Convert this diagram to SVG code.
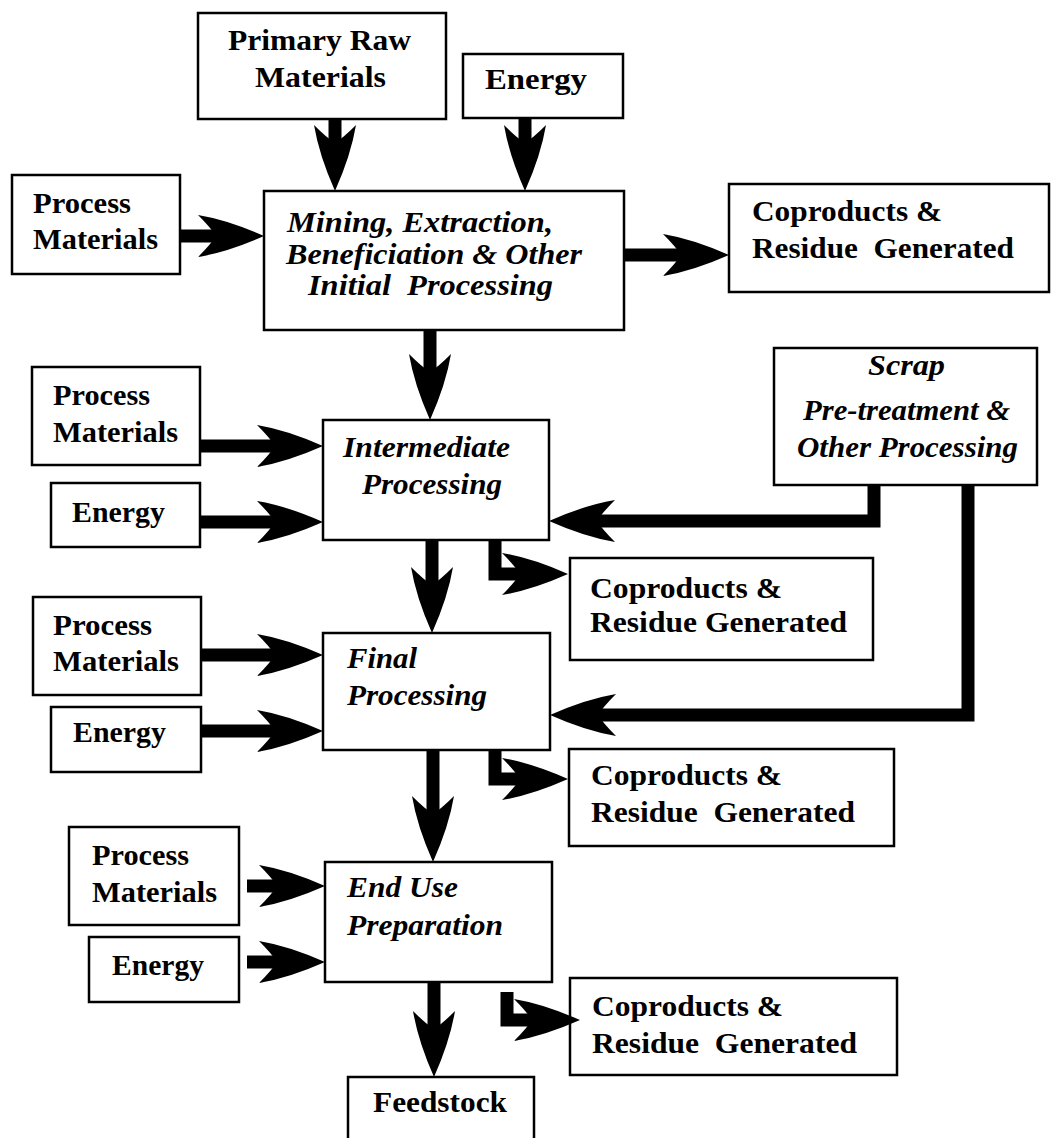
<svg xmlns="http://www.w3.org/2000/svg" width="1055" height="1138" viewBox="0 0 1055 1138">
<defs>
<style>
.box{fill:#fff;stroke:#000;stroke-width:2.5}
.lb{font-family:"Liberation Serif","Times New Roman",serif;font-weight:bold;font-size:30px;fill:#000}
.it{font-style:italic}
.flow{fill:none;stroke:#000;stroke-width:13;stroke-linejoin:miter;stroke-linecap:butt;marker-end:url(#head)}
</style>
<!-- barbed arrowhead; path ends at the notch, tip lies 48 units further on -->
<marker id="head" viewBox="0 0 66 42" refX="18" refY="21" markerWidth="66" markerHeight="42" markerUnits="userSpaceOnUse" orient="auto">
<path d="M66,21 Q30,5 0,0 Q13,13 18,21 Q13,29 0,42 Q30,37 66,21 Z" fill="#000"/>
</marker>
</defs>
<rect width="1055" height="1138" fill="#fff"/>

<g id="primary-raw-materials">
<rect class="box" x="198" y="13" width="248" height="106"/>
<text class="lb" x="228" y="50" textLength="183" lengthAdjust="spacingAndGlyphs">Primary Raw</text>
<text class="lb" x="255" y="87" textLength="131" lengthAdjust="spacingAndGlyphs">Materials</text>
</g>
<g id="energy-1">
<rect class="box" x="463" y="54" width="160" height="64"/>
<text class="lb" x="485" y="89" textLength="102" lengthAdjust="spacingAndGlyphs">Energy</text>
</g>
<g id="process-materials-1">
<rect class="box" x="12" y="175" width="168" height="99"/>
<text class="lb" x="33" y="213" textLength="98" lengthAdjust="spacingAndGlyphs">Process</text>
<text class="lb" x="33" y="249" textLength="125" lengthAdjust="spacingAndGlyphs">Materials</text>
</g>
<g id="mining">
<rect class="box" x="264" y="191" width="360" height="139"/>
<text class="lb it" x="287" y="232" textLength="266" lengthAdjust="spacingAndGlyphs">Mining, Extraction,</text>
<text class="lb it" x="286" y="264" textLength="296" lengthAdjust="spacingAndGlyphs">Beneficiation &amp; Other</text>
<text class="lb it" x="308" y="295" textLength="245" lengthAdjust="spacingAndGlyphs" xml:space="preserve">Initial  Processing</text>
</g>
<g id="coproducts-1">
<rect class="box" x="729" y="184" width="320" height="108"/>
<text class="lb" x="752" y="221" textLength="190" lengthAdjust="spacingAndGlyphs">Coproducts &amp;</text>
<text class="lb" x="752" y="258" textLength="262" lengthAdjust="spacingAndGlyphs" xml:space="preserve">Residue  Generated</text>
</g>

<g id="process-materials-2">
<rect class="box" x="32" y="367" width="168" height="98"/>
<text class="lb" x="53" y="405" textLength="97" lengthAdjust="spacingAndGlyphs">Process</text>
<text class="lb" x="53" y="442" textLength="125" lengthAdjust="spacingAndGlyphs">Materials</text>
</g>
<g id="energy-2">
<rect class="box" x="51" y="483" width="149" height="64"/>
<text class="lb" x="72" y="522" textLength="93" lengthAdjust="spacingAndGlyphs">Energy</text>
</g>
<g id="intermediate">
<rect class="box" x="323" y="420" width="226" height="120"/>
<text class="lb it" x="343" y="457" textLength="167" lengthAdjust="spacingAndGlyphs">Intermediate</text>
<text class="lb it" x="362" y="494" textLength="140" lengthAdjust="spacingAndGlyphs">Processing</text>
</g>
<g id="scrap">
<rect class="box" x="774" y="348" width="263" height="137"/>
<text class="lb it" x="868" y="375" textLength="77" lengthAdjust="spacingAndGlyphs">Scrap</text>
<text class="lb it" x="803" y="420" textLength="207" lengthAdjust="spacingAndGlyphs">Pre-treatment &amp;</text>
<text class="lb it" x="797" y="457" textLength="221" lengthAdjust="spacingAndGlyphs">Other Processing</text>
</g>
<g id="coproducts-2">
<rect class="box" x="570" y="558" width="303" height="102"/>
<text class="lb" x="590" y="598" textLength="192" lengthAdjust="spacingAndGlyphs">Coproducts &amp;</text>
<text class="lb" x="590" y="632" textLength="257" lengthAdjust="spacingAndGlyphs">Residue Generated</text>
</g>

<g id="process-materials-3">
<rect class="box" x="33" y="597" width="168" height="98"/>
<text class="lb" x="53" y="635" textLength="99" lengthAdjust="spacingAndGlyphs">Process</text>
<text class="lb" x="53" y="671" textLength="126" lengthAdjust="spacingAndGlyphs">Materials</text>
</g>
<g id="energy-3">
<rect class="box" x="51" y="707" width="150" height="65"/>
<text class="lb" x="73" y="742" textLength="93" lengthAdjust="spacingAndGlyphs">Energy</text>
</g>
<g id="final">
<rect class="box" x="323" y="633" width="227" height="117"/>
<text class="lb it" x="347" y="668" textLength="70" lengthAdjust="spacingAndGlyphs">Final</text>
<text class="lb it" x="347" y="705" textLength="140" lengthAdjust="spacingAndGlyphs">Processing</text>
</g>
<g id="coproducts-3">
<rect class="box" x="569" y="749" width="325" height="97"/>
<text class="lb" x="591" y="785" textLength="191" lengthAdjust="spacingAndGlyphs">Coproducts &amp;</text>
<text class="lb" x="591" y="822" textLength="264" lengthAdjust="spacingAndGlyphs" xml:space="preserve">Residue  Generated</text>
</g>

<g id="process-materials-4">
<rect class="box" x="69" y="827" width="170" height="98"/>
<text class="lb" x="92" y="865" textLength="97" lengthAdjust="spacingAndGlyphs">Process</text>
<text class="lb" x="92" y="902" textLength="125" lengthAdjust="spacingAndGlyphs">Materials</text>
</g>
<g id="energy-4">
<rect class="box" x="89" y="937" width="150" height="65"/>
<text class="lb" x="112" y="975" textLength="92" lengthAdjust="spacingAndGlyphs">Energy</text>
</g>
<g id="end-use">
<rect class="box" x="325" y="862" width="227" height="120"/>
<text class="lb it" x="347" y="897" textLength="111" lengthAdjust="spacingAndGlyphs">End Use</text>
<text class="lb it" x="347" y="935" textLength="156" lengthAdjust="spacingAndGlyphs">Preparation</text>
</g>
<g id="coproducts-4">
<rect class="box" x="570" y="978" width="327" height="97"/>
<text class="lb" x="592" y="1016" textLength="191" lengthAdjust="spacingAndGlyphs">Coproducts &amp;</text>
<text class="lb" x="592" y="1053" textLength="265" lengthAdjust="spacingAndGlyphs" xml:space="preserve">Residue  Generated</text>
</g>
<g id="feedstock">
<rect class="box" x="348" y="1077" width="186" height="90"/>
<text class="lb" x="373" y="1112" textLength="134" lengthAdjust="spacingAndGlyphs">Feedstock</text>
</g>

<g id="connectors">
<path class="flow" d="M335,119 V143"/>
<path class="flow" d="M525,118 V143"/>
<path class="flow" d="M180,236 H216"/>
<path class="flow" d="M624,255 H681"/>
<path class="flow" d="M430,330 V372"/>
<path class="flow" d="M200,446 H275"/>
<path class="flow" d="M200,522 H275"/>
<path class="flow" d="M874,485 V521 H597"/>
<path class="flow" d="M432,540 V585"/>
<path class="flow" d="M495,540 V574 H520"/>
<path class="flow" d="M201,655 H275"/>
<path class="flow" d="M201,731 H275"/>
<path class="flow" d="M968,485 V715 H598"/>
<path class="flow" d="M433,750 V814"/>
<path class="flow" d="M495,750 V779 H520"/>
<path class="flow" d="M247,886 H277"/>
<path class="flow" d="M247,962 H277"/>
<path class="flow" d="M434,982 V1029"/>
<path class="flow" d="M507,992 V1020 H532"/>
</g>
</svg>
